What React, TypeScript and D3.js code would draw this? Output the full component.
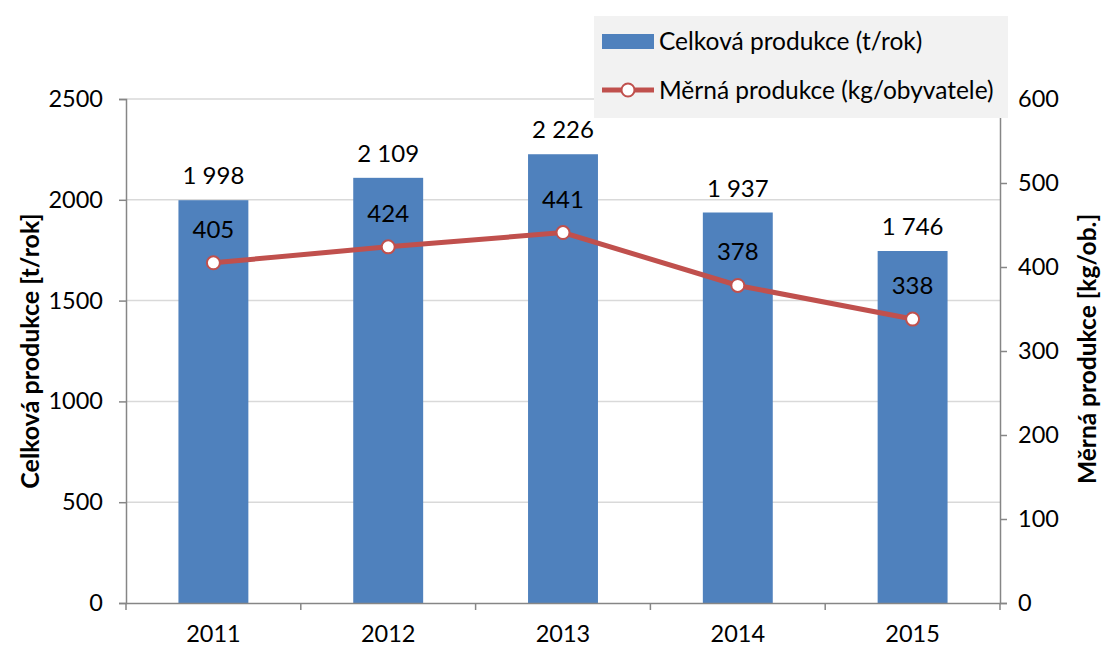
import { useEffect, useRef } from 'react';
import * as d3 from 'd3';

const years = ['2011', '2012', '2013', '2014', '2015'];
const totalProduction = [1998, 2109, 2226, 1937, 1746];
const perCapita = [405, 424, 441, 378, 338];
const leftTicks = [0, 500, 1000, 1500, 2000, 2500];
const rightTicks = [0, 100, 200, 300, 400, 500, 600];

const FONT = 'Lato, "Open Sans", sans-serif';
const AXIS = '#868686';
const GRID = '#d9d9d9';
const BLUE = '#4f81bd';
const RED = '#c0504d';

export default function App() {
  const svgRef = useRef<SVGSVGElement | null>(null);

  useEffect(() => {
    if (!svgRef.current) return;
    const svg = d3.select(svgRef.current);
    svg.selectAll('*').remove();

    const width = 1104;
    const height = 646;
    const margin = { top: 99, right: 104, bottom: 43, left: 126 };
    const innerW = width - margin.left - margin.right;
    const innerH = height - margin.top - margin.bottom;

    const x = d3.scaleBand<string>().domain(years).range([0, innerW]).paddingInner(0).paddingOuter(0);
    const yL = d3.scaleLinear().domain([0, 2500]).range([innerH, 0]);
    const yR = d3.scaleLinear().domain([0, 600]).range([innerH, 0]);

    const fmt = d3.formatLocale({ decimal: ',', thousands: ' ', grouping: [3], currency: ['', ''] }).format(',d');

    svg.attr('viewBox', `0 0 ${width} ${height}`).style('font-family', FONT);
    const g = svg.append('g').attr('transform', `translate(${margin.left},${margin.top})`);

    // grid
    g.append('g')
      .selectAll('line')
      .data(leftTicks.filter((t) => t > 0))
      .join('line')
      .attr('x1', 0)
      .attr('x2', innerW)
      .attr('y1', (d) => yL(d))
      .attr('y2', (d) => yL(d))
      .attr('stroke', GRID)
      .attr('stroke-width', 1.5);

    // bars
    const barW = x.bandwidth() / 2.5;
    g.append('g')
      .selectAll('rect')
      .data(totalProduction)
      .join('rect')
      .attr('x', (_, i) => (x(years[i]) ?? 0) + (x.bandwidth() - barW) / 2)
      .attr('y', (d) => yL(d))
      .attr('width', barW)
      .attr('height', (d) => innerH - yL(d))
      .attr('fill', BLUE);

    // left axis
    const yAxisL = g
      .append('g')
      .call(d3.axisLeft(yL).tickValues(leftTicks).tickFormat(d3.format('d')).tickSize(7).tickPadding(16));
    yAxisL.select('.domain').attr('stroke', AXIS).attr('stroke-width', 1.5);
    yAxisL.selectAll('.tick line').attr('stroke', AXIS).attr('stroke-width', 1.5);
    yAxisL.selectAll('.tick text').attr('fill', '#000').style('font-size', '23.5px').style('font-family', FONT);

    // right axis
    const yAxisR = g
      .append('g')
      .attr('transform', `translate(${innerW},0)`)
      .call(d3.axisRight(yR).tickValues(rightTicks).tickSize(7).tickPadding(11));
    yAxisR.select('.domain').attr('stroke', AXIS).attr('stroke-width', 1.5);
    yAxisR.selectAll('.tick line').attr('stroke', AXIS).attr('stroke-width', 1.5);
    yAxisR.selectAll('.tick text').attr('fill', '#000').style('font-size', '23.5px').style('font-family', FONT);

    // bottom axis
    const xAxis = g
      .append('g')
      .attr('transform', `translate(0,${innerH})`)
      .call(d3.axisBottom(x).tickSize(0).tickPadding(22));
    xAxis.select('.domain').attr('stroke', AXIS).attr('stroke-width', 1.5);
    xAxis.selectAll('.tick text').attr('fill', '#000').style('font-size', '23.5px').style('font-family', FONT);
    g.append('g')
      .selectAll('line')
      .data(d3.range(years.length + 1))
      .join('line')
      .attr('x1', (i) => i * x.step())
      .attr('x2', (i) => i * x.step())
      .attr('y1', innerH)
      .attr('y2', innerH + 7)
      .attr('stroke', AXIS)
      .attr('stroke-width', 1.5);

    // bar labels
    g.append('g')
      .selectAll('text')
      .data(totalProduction)
      .join('text')
      .attr('x', (_, i) => (x(years[i]) ?? 0) + x.bandwidth() / 2)
      .attr('y', (d) => yL(d) - 16)
      .attr('text-anchor', 'middle')
      .style('font-size', '24px')
      .text((d) => fmt(d));

    // line
    const cx = (i: number) => (x(years[i]) ?? 0) + x.bandwidth() / 2;
    const line = d3
      .line<number>()
      .x((_, i) => cx(i))
      .y((d) => yR(d));
    g.append('path')
      .datum(perCapita)
      .attr('d', line)
      .attr('fill', 'none')
      .attr('stroke', RED)
      .attr('stroke-width', 5);
    g.append('g')
      .selectAll('circle')
      .data(perCapita)
      .join('circle')
      .attr('cx', (_, i) => cx(i))
      .attr('cy', (d) => yR(d))
      .attr('r', 6.5)
      .attr('fill', '#fff')
      .attr('stroke', RED)
      .attr('stroke-width', 2);
    g.append('g')
      .selectAll('text')
      .data(perCapita)
      .join('text')
      .attr('x', (_, i) => cx(i))
      .attr('y', (d) => yR(d) - 25)
      .attr('text-anchor', 'middle')
      .style('font-size', '24px')
      .text((d) => String(d));

    // axis titles
    svg
      .append('text')
      .attr('transform', `translate(39,${margin.top + innerH / 2}) rotate(-90)`)
      .attr('text-anchor', 'middle')
      .style('font-size', '25px')
      .style('font-weight', 'bold')
      .text('Celková produkce [t/rok]');
    svg
      .append('text')
      .attr('transform', `translate(1096,${margin.top + innerH / 2 - 2}) rotate(-90)`)
      .attr('text-anchor', 'middle')
      .style('font-size', '24.5px')
      .style('font-weight', 'bold')
      .text('Měrná produkce [kg/ob.]');

    // legend
    const lg = svg.append('g').attr('transform', 'translate(594,16)');
    lg.append('rect').attr('width', 414).attr('height', 102).attr('fill', '#f2f2f2');
    lg.append('rect').attr('x', 8).attr('y', 18).attr('width', 52).attr('height', 15).attr('fill', BLUE);
    lg.append('text').attr('x', 65).attr('y', 34).style('font-size', '24.5px').text('Celková produkce (t/rok)');
    lg.append('line').attr('x1', 8).attr('x2', 60).attr('y1', 74).attr('y2', 74).attr('stroke', RED).attr('stroke-width', 5);
    lg.append('circle').attr('cx', 34).attr('cy', 74).attr('r', 6.5).attr('fill', '#fff').attr('stroke', RED).attr('stroke-width', 2);
    lg.append('text').attr('x', 65).attr('y', 83).style('font-size', '24.5px').text('Měrná produkce (kg/obyvatele)');
  }, []);

  return (
    <svg
      ref={svgRef}
      width={1104}
      height={646}
      style={{ position: 'absolute', left: 0, top: 0, background: '#fff' }}
      role="img"
      aria-label="Produkce"
    />
  );
}
